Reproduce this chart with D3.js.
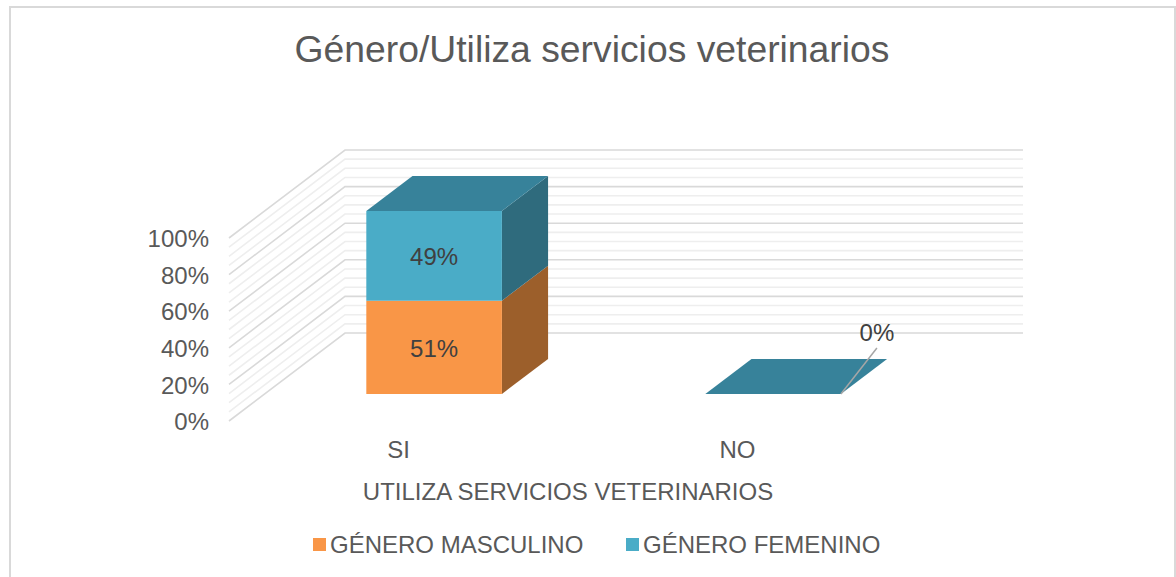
<!DOCTYPE html>
<html>
<head>
<meta charset="utf-8">
<script src="https://cdn.jsdelivr.net/npm/d3@7"></script>
<style>
body { margin: 0; background: #fff; }
text { font-family: "Liberation Sans", Arial, sans-serif; fill: #595959; }
</style>
</head>
<body>
<script>
var categories = ["SI", "NO"];
var seriesNames = ["GÉNERO MASCULINO", "GÉNERO FEMENINO"];
var masculino = [0.51, 0];
var femenino = [0.49, 0];
var titleText = "Género/Utiliza servicios veterinarios";
var xTitle = "UTILIZA SERVICIOS VETERINARIOS";

var width = 1176, height = 577;
var svg = d3.select("body").append("svg").attr("width", width).attr("height", height).style("display", "block");

var colors = {
  front: ["#f99647", "#4aacc7"],
  side: ["#9c5f2b", "#2f6b7d"],
  top: ["#9c5f2b", "#37829a"]
};

// chart frame
svg.append("path").attr("d", "M10,577V7H1175V577").attr("fill", "none").attr("stroke", "#d9d9d9").attr("stroke-width", 2);

// title
svg.append("text").attr("x", 592).attr("y", 62).attr("text-anchor", "middle").style("font-size", "37.3px").text(titleText);

// scales for the front plane, depth is handled by project()
var y = d3.scaleLinear().domain([0, 1]).range([421, 238]);
var x = d3.scaleBand().domain(categories).range([229, 907]).paddingInner(0.6).paddingOuter(0.3);
var dxWall = 116, dyWall = -88;
var zFront = 0.307, zBack = 0.705;

function project(px, v, z) {
  return [px + dxWall * z, y(v) + dyWall * z];
}
var poly = d3.line();

// walls
var grid = svg.append("g").attr("fill", "none");
var minorTicks = y.ticks(25);
var majorTicks = y.ticks(5);

function wallLine(v) {
  return poly([project(229, v, 0), project(229, v, 1), project(907, v, 1)]);
}
grid.selectAll(".minor").data(minorTicks.filter(function(d) { return Math.round(d * 100) % 20 != 0; }))
  .enter().append("path").attr("class", "minor")
  .attr("d", wallLine).attr("stroke", "#eeeeee").attr("stroke-width", 1.6);
grid.selectAll(".major").data(majorTicks)
  .enter().append("path").attr("class", "major")
  .attr("d", wallLine).attr("stroke", "#d9d9d9").attr("stroke-width", 1.6);

// y axis labels
var yAxis = d3.axisLeft(y).tickValues(majorTicks).tickSize(0).tickPadding(0).tickFormat(d3.format(".0%"));
var yG = svg.append("g").attr("transform", "translate(209,1)").call(yAxis);
yG.select(".domain").remove();
yG.selectAll("text").style("font-size", "24px").attr("fill", "#595959");

// stacked boxes
var bars = svg.append("g");
categories.forEach(function(cat, i) {
  var x0 = x(cat), x1 = x0 + x.bandwidth();
  var stack = [masculino[i], femenino[i]];
  var base = 0;
  stack.forEach(function(v, s) {
    var t = base + v;
    if (v > 0) {
      bars.append("path").attr("fill", colors.side[s])
        .attr("d", poly([project(x1, base, zFront), project(x1, base, zBack), project(x1, t, zBack), project(x1, t, zFront)]) + "Z");
      bars.append("path").attr("fill", colors.front[s])
        .attr("d", poly([project(x0, base, zFront), project(x1, base, zFront), project(x1, t, zFront), project(x0, t, zFront)]) + "Z");
    }
    base = t;
  });
  bars.append("path").attr("fill", colors.top[1])
    .attr("d", poly([project(x0, base, zFront), project(x1, base, zFront), project(x1, base, zBack), project(x0, base, zBack)]) + "Z");
});

// data labels
var labelG = svg.append("g").attr("text-anchor", "middle").style("font-size", "24px");
var fmt = d3.format(".0%");
var siX = x("SI") + x.bandwidth() / 2;
[masculino[0], femenino[0]].forEach(function(v, s) {
  var start = s == 0 ? 0 : masculino[0];
  var p = project(siX, start + v / 2, zFront);
  labelG.append("text").attr("x", p[0]).attr("y", p[1] + 1).attr("dy", "0.36em").style("fill", "#404040").text(fmt(v));
});

// the NO label sits away from its flat box, with a leader line
var noEnd = project(x("NO") + x.bandwidth(), 0, zFront);
svg.append("line").attr("x1", noEnd[0]).attr("y1", noEnd[1]).attr("x2", noEnd[0] + 36).attr("y2", noEnd[1] - 46)
  .attr("stroke", "#a6a6a6").attr("stroke-width", 1.5);
labelG.append("text").attr("x", noEnd[0] + 36).attr("y", noEnd[1] - 62).attr("dy", "0.36em").style("fill", "#404040").text(fmt(femenino[1]));

// category labels
svg.append("g").selectAll("text").data(categories).enter().append("text")
  .attr("x", function(d) { return x(d) + x.bandwidth() / 2; })
  .attr("y", 458).attr("text-anchor", "middle").style("font-size", "24px")
  .text(function(d) { return d; });

// axis title
svg.append("text").attr("x", 568).attr("y", 500).attr("text-anchor", "middle").style("font-size", "24px").text(xTitle);

// legend
var legendX = [313, 626];
var legend = svg.append("g").selectAll("g").data(seriesNames).enter().append("g")
  .attr("transform", function(d, i) { return "translate(" + legendX[i] + ",538)"; });
legend.append("rect").attr("width", 13).attr("height", 13).attr("fill", function(d, i) { return colors.front[i]; });
legend.append("text").attr("x", 17).attr("y", 15).style("font-size", "24px").text(function(d) { return d; });
</script>
</body>
</html>
